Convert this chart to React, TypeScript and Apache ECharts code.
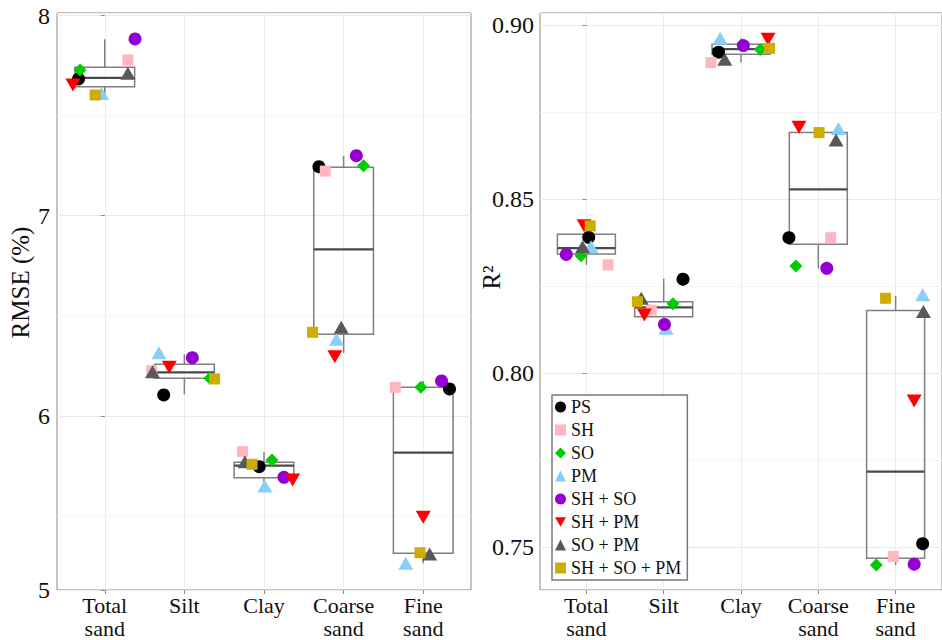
import React, { useEffect, useRef } from "react";
import * as echarts from "echarts";

// ---------- data ----------
const categories = ["Total\nsand", "Silt", "Clay", "Coarse\nsand", "Fine\nsand"];
const models = ["PS", "SH", "SO", "PM", "SH + SO", "SH + PM", "SO + PM", "SH + SO + PM"];

// RMSE (%) per model, in category order
const rmsePS = [7.683, 6.105, 5.747, 7.245, 6.135];
const rmseSH = [7.778, 6.226, 5.822, 7.223, 6.143];
const rmseSO = [7.728, 6.188, 5.78, 7.25, 6.143];
const rmsePM = [7.611, 6.316, 5.65, 6.383, 5.264];
const rmseSHSO = [7.883, 6.291, 5.694, 7.3, 6.175];
const rmseSHPM = [7.653, 6.243, 5.68, 6.296, 5.494];
const rmseSOPM = [7.711, 6.221, 5.772, 6.443, 5.311];
const rmseSHSOPM = [7.603, 6.185, 5.759, 6.418, 5.317];

// R2 per model, in category order
const r2PS = [0.839, 0.827, 0.8922, 0.8389, 0.751];
const r2SH = [0.8311, 0.8181, 0.8892, 0.8389, 0.7473];
const r2SO = [0.8337, 0.8199, 0.893, 0.8308, 0.7449];
const r2PM = [0.8363, 0.8129, 0.8962, 0.8703, 0.8225];
const r2SHSO = [0.8341, 0.814, 0.8941, 0.8301, 0.7451];
const r2SHPM = [0.8423, 0.8167, 0.8959, 0.8706, 0.792];
const r2SOPM = [0.8363, 0.8215, 0.8902, 0.867, 0.8177];
const r2SHSOPM = [0.8423, 0.8205, 0.8933, 0.8691, 0.8215];

// horizontal jitter (category units), per model
const rmseJitter = [
  [-0.33, -0.26, -0.06, -0.31, 0.33],
  [0.29, -0.41, -0.27, -0.23, -0.35],
  [-0.31, 0.32, 0.1, 0.25, -0.03],
  [-0.04, -0.32, 0.01, -0.09, -0.22],
  [0.38, 0.1, 0.25, 0.16, 0.23],
  [-0.4, -0.19, 0.36, -0.11, 0.0],
  [0.29, -0.4, -0.24, -0.03, 0.08],
  [-0.12, 0.38, -0.15, -0.39, -0.04],
];
const r2Jitter = [
  [0.03, 0.25, -0.29, -0.38, 0.35],
  [0.28, -0.16, -0.39, 0.16, -0.03],
  [-0.07, 0.12, 0.25, -0.29, -0.25],
  [0.06, 0.03, -0.27, 0.26, 0.35],
  [-0.26, 0.01, 0.03, 0.11, 0.24],
  [-0.03, -0.25, 0.35, -0.25, 0.24],
  [-0.05, -0.29, -0.21, 0.23, 0.36],
  [0.05, -0.34, 0.37, 0.01, -0.13],
];

// box statistics
const rmseLow = [7.6, 6.108, 5.65, 6.315, 5.265];
const rmseQ1 = [7.644, 6.188, 5.692, 6.408, 5.314];
const rmseMedian = [7.689, 6.218, 5.752, 6.832, 5.817];
const rmseQ3 = [7.741, 6.258, 5.769, 7.242, 6.143];
const rmseHigh = [7.881, 6.308, 5.819, 7.298, 6.175];

const r2Low = [0.8311, 0.813, 0.8892, 0.8301, 0.7449];
const r2Q1 = [0.8342, 0.8162, 0.8916, 0.837, 0.7468];
const r2Median = [0.8359, 0.8189, 0.8931, 0.8528, 0.7717];
const r2Q3 = [0.8399, 0.8205, 0.8945, 0.8691, 0.818];
const r2High = [0.8423, 0.8271, 0.8962, 0.8707, 0.8222];

// axis ranges and tick labels
const rmseMin = 5.131;
const rmseMax = 8.0125;
const rmseTicks = [rmseMin, 6, 7, 8];
const rmseTickLabels = ["5", "6", "7", "8"];
const r2Min = 0.7377;
const r2Max = 0.90345;
const r2Ticks = [0.75, 0.8, 0.85, 0.9];
const r2TickLabels = ["0.75", "0.80", "0.85", "0.90"];

const rmseValues = [rmsePS, rmseSH, rmseSO, rmsePM, rmseSHSO, rmseSHPM, rmseSOPM, rmseSHSOPM];
const r2Values = [r2PS, r2SH, r2SO, r2PM, r2SHSO, r2SHPM, r2SOPM, r2SHSOPM];

// ---------- styles ----------
const FONT = "Liberation Serif";
const INV_TRI = "path://M0,0L10,0L5,8.66Z";
const modelColors = ["#000000", "#FFB6C1", "#00CD00", "#87CEFA", "#9400D3", "#FF0000", "#595959", "#CDAD00"];
const modelSymbols = ["circle", "rect", "diamond", "triangle", "circle", INV_TRI, "triangle", "rect"];
const modelSizes: number[][] = [
  [13, 13],
  [11, 11],
  [13, 13],
  [15, 13],
  [13, 13],
  [15, 13],
  [15, 13],
  [11, 11],
];

function boxRenderItem(params: any, api: any) {
  const x = api.value(0);
  const pLow = api.coord([x, api.value(1)]);
  const pQ1 = api.coord([x, api.value(2)]);
  const pMed = api.coord([x, api.value(3)]);
  const pQ3 = api.coord([x, api.value(4)]);
  const pHigh = api.coord([x, api.value(5)]);
  const w = api.size([0.75, 0])[0];
  const lineStyle = { stroke: "#7f7f7f", lineWidth: 1.5 };
  return {
    type: "group",
    children: [
      { type: "line", shape: { x1: pHigh[0], y1: pHigh[1], x2: pQ3[0], y2: pQ3[1] }, style: lineStyle },
      { type: "line", shape: { x1: pQ1[0], y1: pQ1[1], x2: pLow[0], y2: pLow[1] }, style: lineStyle },
      {
        type: "rect",
        shape: { x: pQ3[0] - w / 2, y: pQ3[1], width: w, height: pQ1[1] - pQ3[1] },
        style: { stroke: "#7f7f7f", lineWidth: 1.5, fill: "none" },
      },
      {
        type: "line",
        shape: { x1: pMed[0] - w / 2, y1: pMed[1], x2: pMed[0] + w / 2, y2: pMed[1] },
        style: { stroke: "#4a4a4a", lineWidth: 2.2 },
      },
    ],
  };
}

function buildOption() {
  const catIdx = categories.map((_, i) => i);
  const xAxisBase = (gridIndex: number) => ({
    gridIndex,
    type: "value",
    min: -0.6,
    max: 4.6,
    axisLine: { show: false },
    axisTick: { show: true, customValues: catIdx, length: 4, lineStyle: { color: "#8a8a8a" } },
    axisLabel: {
      customValues: catIdx,
      formatter: (v: number) => categories[Math.round(v)] ?? "",
      fontFamily: FONT,
      fontSize: 22,
      lineHeight: 23,
      color: "#111",
      margin: 4,
    },
    splitLine: { show: true, lineStyle: { color: "#ECECEC", width: 1 } },
  });

  const hiddenY = (gridIndex: number, min: number, max: number) => ({
    gridIndex,
    type: "value",
    min,
    max,
    splitNumber: 3,
    position: "left",
    axisLine: { show: false },
    axisTick: { show: false },
    axisLabel: { show: false },
    splitLine: { show: true, lineStyle: { color: "#EAEAEA", width: 1 } },
    minorTick: { show: false, splitNumber: 2 },
    minorSplitLine: { show: true, lineStyle: { color: "#F4F4F4", width: 1 } },
  });

  const series: any[] = [];
  const boxData = (lo: number[], q1: number[], md: number[], q3: number[], hi: number[]) =>
    categories.map((_, i) => [i, lo[i], q1[i], md[i], q3[i], hi[i]]);

  series.push({
    type: "custom",
    xAxisIndex: 0,
    yAxisIndex: 0,
    renderItem: boxRenderItem,
    encode: { x: 0, y: [1, 2, 3, 4, 5] },
    data: boxData(rmseLow, rmseQ1, rmseMedian, rmseQ3, rmseHigh),
    silent: true,
    z: 2,
  });
  series.push({
    type: "custom",
    xAxisIndex: 1,
    yAxisIndex: 1,
    renderItem: boxRenderItem,
    encode: { x: 0, y: [1, 2, 3, 4, 5] },
    data: boxData(r2Low, r2Q1, r2Median, r2Q3, r2High),
    silent: true,
    z: 2,
  });

  const addPoints = (panel: number, values: number[][], jitter: number[][]) => {
    models.forEach((name, m) => {
      series.push({
        type: "scatter",
        name,
        xAxisIndex: panel,
        yAxisIndex: panel,
        symbol: modelSymbols[m],
        symbolSize: modelSizes[m],
        itemStyle: { color: modelColors[m], opacity: 1 },
        data: categories.map((_, i) => [i + jitter[m][i], values[m][i]]),
        z: 3,
      });
    });
  };
  addPoints(0, rmseValues, rmseJitter);
  addPoints(1, r2Values, r2Jitter);

  return {
    animation: false,
    backgroundColor: "#ffffff",
    grid: [
      { left: 57, right: 471, top: 13, bottom: 50, show: true, borderColor: "#8a8a8a", borderWidth: 1 },
      { left: 540, right: -10, top: 13, bottom: 50, show: true, borderColor: "#8a8a8a", borderWidth: 1 },
    ],
    xAxis: [xAxisBase(0), xAxisBase(1)],
    yAxis: [
      {
        gridIndex: 0,
        type: "value",
        min: rmseMin,
        max: rmseMax,
        name: "RMSE (%)",
        nameLocation: "middle",
        nameRotate: 90,
        nameGap: 24,
        nameMoveOverlap: false,
        nameTextStyle: { fontFamily: FONT, fontSize: 25, color: "#111", padding: [0, 0, 0, 38] },
        axisLine: { show: false },
        axisTick: { show: true, customValues: rmseTicks, length: 4, lineStyle: { color: "#8a8a8a" } },
        axisLabel: {
          customValues: rmseTicks,
          formatter: (v: number) => {
            const k = rmseTicks.findIndex((t) => Math.abs(t - v) < 1e-6);
            return k >= 0 ? rmseTickLabels[k] : "";
          },
          fontFamily: FONT,
          fontSize: 24,
          color: "#111",
          margin: 7,
        },
        splitLine: { show: false },
      },
      {
        gridIndex: 1,
        type: "value",
        min: r2Min,
        max: r2Max,
        position: "left",
        name: "R²",
        nameLocation: "middle",
        nameRotate: 90,
        nameGap: 36,
        nameMoveOverlap: false,
        nameTextStyle: { fontFamily: FONT, fontSize: 25, color: "#111", padding: [0, 0, 0, 48] },
        axisLine: { show: false },
        axisTick: { show: true, customValues: r2Ticks, length: 4, lineStyle: { color: "#8a8a8a" } },
        axisLabel: {
          customValues: r2Ticks,
          formatter: (v: number) => {
            const k = r2Ticks.findIndex((t) => Math.abs(t - v) < 1e-9);
            return k >= 0 ? r2TickLabels[k] : "";
          },
          fontFamily: FONT,
          fontSize: 24,
          color: "#111",
          margin: 6,
        },
        splitLine: { show: false },
      },
      hiddenY(0, rmseMin, rmseMax),
      hiddenY(1, r2Min, r2Max),
    ],
    legend: {
      data: models,
      orient: "vertical",
      left: 552,
      top: 395,
      itemWidth: 11,
      itemHeight: 11,
      itemGap: 5,
      padding: [3, 6, 3, 3],
      borderColor: "#7a7a7a",
      borderWidth: 1.5,
      backgroundColor: "#ffffff",
      selectedMode: false,
      textStyle: { fontFamily: FONT, fontSize: 18, color: "#111" },
      z: 10,
    },
    series,
  };
}

export default function App() {
  const ref = useRef<HTMLDivElement | null>(null);
  useEffect(() => {
    if (!ref.current) return;
    const chart = echarts.init(ref.current, undefined, { renderer: "svg" });
    chart.setOption(buildOption() as any);
    return () => chart.dispose();
  }, []);
  return (
    <div
      ref={ref}
      style={{ position: "fixed", left: 0, top: 0, width: 942, height: 640, background: "#fff" }}
    />
  );
}
